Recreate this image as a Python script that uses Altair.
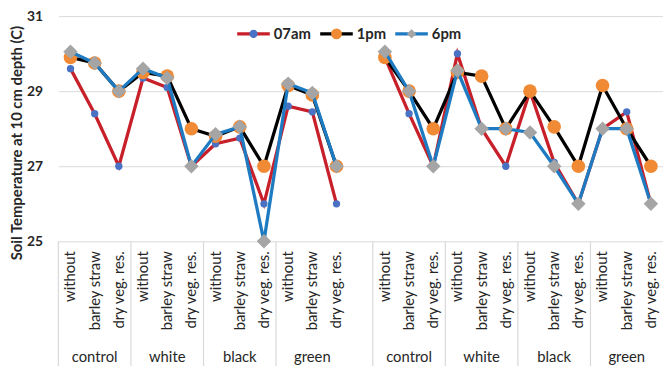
import altair as alt
import pandas as pd

# ---------------- data ----------------
groups = ["control", "white", "black", "green"]
treatments = ["without", "barley straw", "dry veg. res."]
series_names = ["07am", "1pm", "6pm"]

am07_left = [29.6, 28.4, 27.0, 29.35, 29.1, 27.0, 27.6, 27.75, 26.0, 28.6, 28.45, 26.0]
pm1_left = [29.9, 29.75, 29.0, 29.5, 29.4, 28.0, 27.8, 28.05, 27.0, 29.15, 28.9, 27.0]
pm6_left = [30.05, 29.75, 29.0, 29.6, 29.35, 27.0, 27.85, 28.05, 25.0, 29.2, 28.95, 27.0]

am07_right = [29.9, 28.4, 27.0, 30.0, 28.0, 27.0, 29.0, 27.1, 26.0, 28.0, 28.45, 26.0]
pm1_right = [29.9, 29.0, 28.0, 29.5, 29.4, 28.0, 29.0, 28.05, 27.0, 29.15, 28.0, 27.0]
pm6_right = [30.05, 29.0, 27.0, 29.55, 28.0, 28.0, 27.9, 27.0, 26.0, 28.0, 28.0, 26.0]

y_ticks = [25, 27, 29, 31]

# ---------------- styling ----------------
FONT = "Lato"
TXT = "#262626"
GRID = "#d9d9d9"
line_colors = {"07am": "#c8202a", "1pm": "#000000", "6pm": "#1f7bc1"}
marker_colors = {"07am": "#4a72c4", "1pm": "#f08a35", "6pm": "#a5a5a5"}
marker_shapes = {"07am": "circle", "1pm": "circle", "6pm": "diamond"}
marker_sizes = {"07am": 55, "1pm": 190, "6pm": 215}

W, H = 612, 228
n_per_panel = len(groups) * len(treatments)
n_slots = 2 * n_per_panel + 1  # one empty slot between the two panels

# ---------------- long table ----------------
panel_values = {
    "A": {"07am": am07_left, "1pm": pm1_left, "6pm": pm6_left},
    "B": {"07am": am07_right, "1pm": pm1_right, "6pm": pm6_right},
}
rows = []
cat_rows = []
for p_i, panel in enumerate(["A", "B"]):
    offset = p_i * (n_per_panel + 1)
    for g_i, g in enumerate(groups):
        for t_i, t in enumerate(treatments):
            pos = offset + g_i * len(treatments) + t_i
            cat_rows.append({"pos": pos, "label": t, "group": g, "panel": panel})
            for s in series_names:
                rows.append({"pos": pos, "panel": panel, "series": s,
                             "val": panel_values[panel][s][g_i * len(treatments) + t_i]})
df = pd.DataFrame(rows)
cats = pd.DataFrame(cat_rows)
grp = cats.groupby(["panel", "group"], as_index=False)["pos"].mean()

# separators between groups
sep_rows = []
for p_i in range(2):
    offset = p_i * (n_per_panel + 1)
    for g_i in range(len(groups)):
        sep_rows.append({"x": offset + g_i * len(treatments) - 0.5, "long": g_i == 0})
seps = pd.DataFrame(sep_rows)

xscale = alt.Scale(domain=[-0.5, n_slots - 0.5], nice=False, zero=False)
yscale = alt.Scale(domain=[25, 31], nice=False, zero=False)
X = alt.X("pos:Q", scale=xscale, axis=None)
Y = alt.Y("val:Q", scale=yscale,
          axis=alt.Axis(values=y_ticks, title="Soil Temperature at 10 cm depth (C)",
                        grid=True, gridColor=GRID, gridWidth=1, domain=False, ticks=False,
                        labelFont=FONT, labelFontSize=14, labelFontWeight="bold", labelColor=TXT,
                        labelPadding=16, titleFont=FONT, titleFontSize=15, titleFontWeight="bold",
                        titleColor=TXT, titleY=128, titleX=-42, titleBaseline="middle"))

layers = []
for s in series_names:
    sub = alt.Chart(df).transform_filter(alt.datum.series == s)
    layers.append(sub.mark_line(color=line_colors[s], strokeWidth=3.3).encode(
        x=X, y=Y, detail="panel:N", order="pos:Q"))
    layers.append(sub.mark_point(shape=marker_shapes[s], filled=True, opacity=1,
                                 color=marker_colors[s], size=marker_sizes[s]).encode(x=X, y=Y))

# category labels (rotated)
cat_text = alt.Chart(cats).mark_text(angle=270, align="right", baseline="middle", font=FONT,
                                     fontSize=15, color=TXT).encode(
    x=alt.X("pos:Q", scale=xscale, axis=None), y=alt.value(H + 10), text="label:N")
grp_text = alt.Chart(grp).mark_text(align="center", baseline="middle", font=FONT,
                                    fontSize=15, color=TXT).encode(
    x=alt.X("pos:Q", scale=xscale, axis=None), y=alt.value(H + 117), text="group:N")
sep_short = alt.Chart(seps).transform_filter(~alt.datum.long).mark_rule(color=GRID, strokeWidth=1.2).encode(
    x=alt.X("x:Q", scale=xscale, axis=None), y=alt.value(H), y2=alt.value(H + 127))
sep_long = alt.Chart(seps).transform_filter(alt.datum.long).mark_rule(color=GRID, strokeWidth=1.2).encode(
    x=alt.X("x:Q", scale=xscale, axis=None), y=alt.value(H), y2=alt.value(H + 140))

# legend (manual, line + marker)
leg_start = [181, 265, 341]
leg = pd.DataFrame({"series": series_names, "x0": leg_start})
leg["x1"] = leg["x0"] + 33
leg["xm"] = leg["x0"] + 16.5
leg["xt"] = leg["x0"] + 37
leg_layers = []
for s in series_names:
    sub = alt.Chart(leg).transform_filter(alt.datum.series == s)
    leg_layers.append(sub.mark_rule(color=line_colors[s], strokeWidth=3.3).encode(
        x=alt.X("x0:Q", scale=None), x2="x1:Q", y=alt.value(18)))
    leg_layers.append(sub.mark_point(shape=marker_shapes[s], filled=True, opacity=1,
                                     color=marker_colors[s],
                                     size={"07am": 70, "1pm": 120, "6pm": 90}[s]).encode(
        x=alt.X("xm:Q", scale=None), y=alt.value(18)))
leg_text = alt.Chart(leg).mark_text(align="left", baseline="middle", font=FONT, fontSize=15,
                                    fontWeight="bold", color=TXT).encode(
    x=alt.X("xt:Q", scale=None), y=alt.value(18), text="series:N")

chart = alt.layer(sep_short, sep_long, cat_text, grp_text, *layers, *leg_layers, leg_text).properties(
    width=W, height=H,
    autosize=alt.AutoSizeParams(type="none"),
    padding={"left": 51, "top": 6, "right": 0, "bottom": 124},
).configure_view(stroke=None)

chart.save("out.html", embed_options={"renderer": "svg", "actions": False})
